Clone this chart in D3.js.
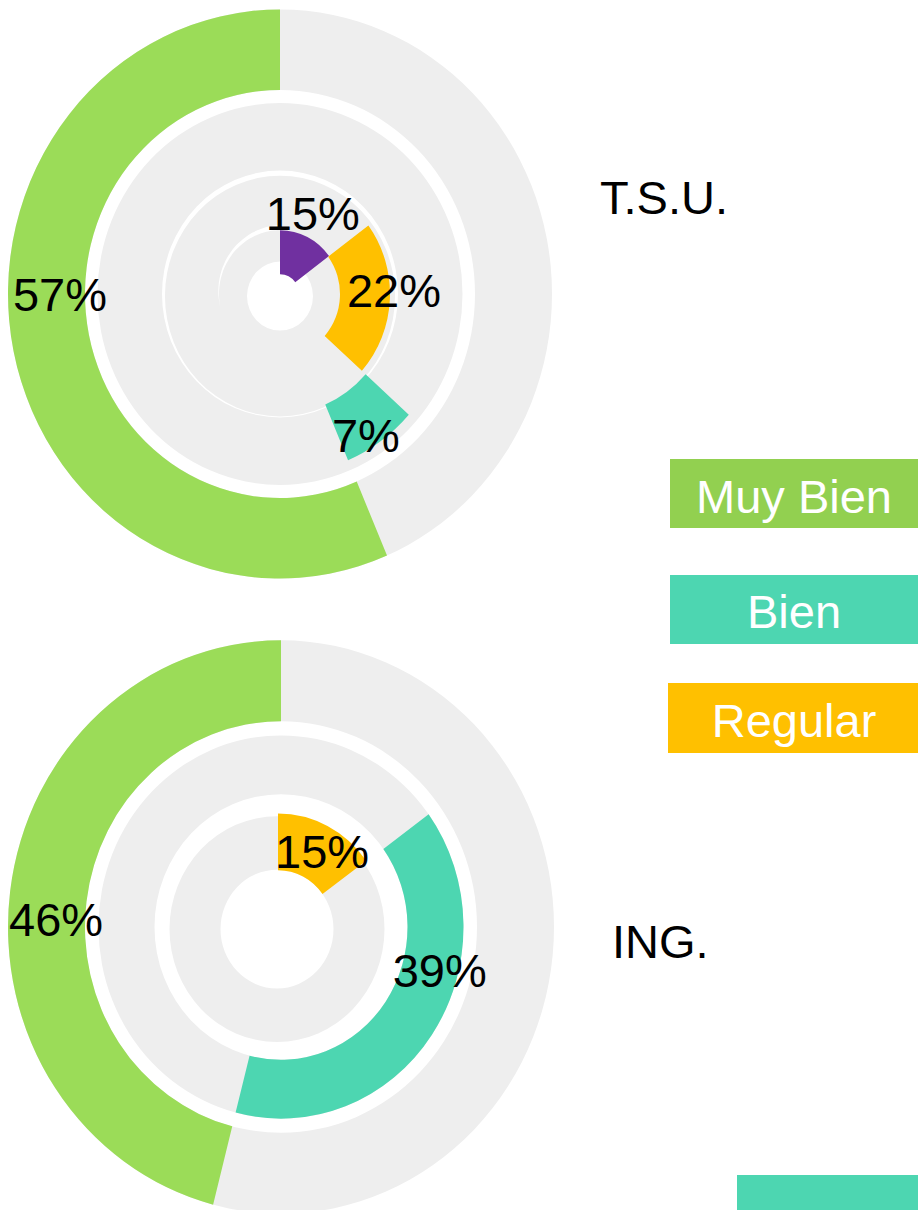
<!DOCTYPE html>
<html lang="es">
<head>
  <meta charset="UTF-8">
  <script src="https://cdn.jsdelivr.net/npm/d3@7"></script>
  <title>Muy Bien / Bien / Regular</title>
  <style>
    body { margin: 0; background: #fff; }
    text { font-family: 'Liberation Sans', Arial, sans-serif; }
    .pct { font-size: 47px; fill: #000; }
    .title { font-size: 47px; fill: #000; }
    .legend_text { font-size: 47px; fill: #fff; }
  </style>
</head>
<body>
<div id="chart"></div>
<script>
  // data (inner ring first)
  var tsuCategories = ["Otro", "Regular", "Bien", "Muy Bien"];
  var tsuValues = [15, 22, 7, 57];
  var ingCategories = ["Regular", "Bien", "Muy Bien"];
  var ingValues = [15, 39, 46];
  var groupNames = ["T.S.U.", "ING."];
  var legendLabels = ["Muy Bien", "Bien", "Regular", ""];

  var width = 918, height = 1210;

  var color = d3.scaleOrdinal()
    .domain(["Muy Bien", "Bien", "Regular", "Otro"])
    .range(["#9bdc58", "#4dd6b1", "#ffc000", "#7030a0"]);
  var legendColor = ["#92d050", "#4dd6b1", "#ffc000", "#4dd6b1"];

  // layout of each radial chart: radii in px, optional dx/dy shift, angles in degrees
  var charts = [
    { name: groupNames[0], cats: tsuCategories, values: tsuValues,
      cx: 280, cy: 294, sy: 1.046,
      tracks: [[195, 272], [118, 182.5], [33, 115, 0, 2]],
      bands: { "Muy Bien": [195, 272], "Bien": [115, 173], "Regular": [60, 110], "Otro": [19, 61] },
      labelPos: { "Muy Bien": [270, 220], "Bien": [147.5, 160], "Regular": [88, 114], "Otro": [23, 84] },
      cut: [61, 5, -102, 0],
      title: [600, 214] },
    { name: groupNames[1], cats: ingCategories, values: ingValues,
      cx: 281, cy: 927, sy: 1.05,
      tracks: [[196, 273], [126.5, 182.5], [56.5, 107.5, -4, 2]],
      bands: { "Muy Bien": [196, 273], "Bien": [126.5, 182.5], "Regular": [55, 109, -3, 1] },
      labelPos: { "Muy Bien": [272, 225], "Bien": [104.5, 164], "Regular": [29.7, 83] },
      cut: null,
      title: [612, 958] }
  ];

  var svg = d3.select("#chart")
    .append("svg")
    .attr("width", width)
    .attr("height", height);

  var arc = d3.arc();
  var rad = Math.PI / 180;

  function shift(b) {
    return "translate(" + (b[2] || 0) + "," + (b[3] || 0) + ")";
  }

  charts.forEach(function(c) {
    var rows = c.cats.map(function(k, i) { return { cat: k, value: c.values[i] }; });
    var pie = d3.pie().sort(null).value(function(d) { return d.value; })
      .startAngle(0).endAngle(2 * Math.PI);
    var slices = pie(rows);

    var g = svg.append("g")
      .attr("transform", "translate(" + c.cx + "," + c.cy + ") scale(1," + c.sy + ")");

    // grey tracks
    g.selectAll("path.track")
      .data(c.tracks)
      .enter()
      .append("path")
      .attr("class", "track")
      .attr("transform", shift)
      .attr("d", function(t) {
        return arc({ innerRadius: t[0], outerRadius: t[1], startAngle: 0, endAngle: 2 * Math.PI });
      })
      .style("fill", "#eeeeee");

    // thin white crescent between the two inner rings
    if (c.cut) {
      var a0 = c.cut[2] * rad, a1 = c.cut[3] * rad;
      var crescent = d3.areaRadial()
        .angle(function(a) { return a; })
        .innerRadius(c.cut[0])
        .outerRadius(function(a) { return c.cut[0] + c.cut[1] * (a - a0) / (a1 - a0); })
        .curve(d3.curveCatmullRom);
      g.append("path")
        .attr("d", crescent(d3.range(0, 21).map(function(i) { return a0 + (a1 - a0) * i / 20; })))
        .style("fill", "#fff");
    }

    // coloured segments
    g.selectAll("path.seg")
      .data(slices)
      .enter()
      .append("path")
      .attr("class", "seg")
      .attr("transform", function(d) { return shift(c.bands[d.data.cat]); })
      .attr("d", function(d) {
        var b = c.bands[d.data.cat];
        return arc({ innerRadius: b[0], outerRadius: b[1], startAngle: d.startAngle, endAngle: d.endAngle });
      })
      .style("fill", function(d) { return color(d.data.cat); });

    // percentage labels
    svg.selectAll(null)
      .data(slices)
      .enter()
      .append("text")
      .attr("class", "pct")
      .attr("text-anchor", "middle")
      .attr("dy", "0.36em")
      .attr("x", function(d) {
        var p = c.labelPos[d.data.cat];
        return c.cx + p[1] * Math.sin(p[0] * rad);
      })
      .attr("y", function(d) {
        var p = c.labelPos[d.data.cat];
        return c.cy - p[1] * Math.cos(p[0] * rad) * c.sy;
      })
      .text(function(d) { return d.data.value + "%"; });

    svg.append("text")
      .attr("class", "title")
      .attr("x", c.title[0])
      .attr("y", c.title[1])
      .text(c.name);
  });

  // legend boxes
  var legendBoxes = [[670, 459, 248, 69, 513], [670, 575, 248, 69, 628], [668, 683, 250, 70, 737], [737, 1175, 181, 40, 0]];

  svg.selectAll("rect.legend")
    .data(legendLabels)
    .enter()
    .append("rect")
    .attr("class", "legend")
    .attr("x", function(d, i) { return legendBoxes[i][0]; })
    .attr("y", function(d, i) { return legendBoxes[i][1]; })
    .attr("width", function(d, i) { return legendBoxes[i][2]; })
    .attr("height", function(d, i) { return legendBoxes[i][3]; })
    .style("fill", function(d, i) { return legendColor[i]; });

  svg.selectAll("text.legend_text")
    .data(legendLabels.filter(function(d) { return d !== ""; }))
    .enter()
    .append("text")
    .attr("class", "legend_text")
    .attr("text-anchor", "middle")
    .attr("x", 794)
    .attr("y", function(d, i) { return legendBoxes[i][4]; })
    .text(function(d) { return d; });
</script>
</body>
</html>
